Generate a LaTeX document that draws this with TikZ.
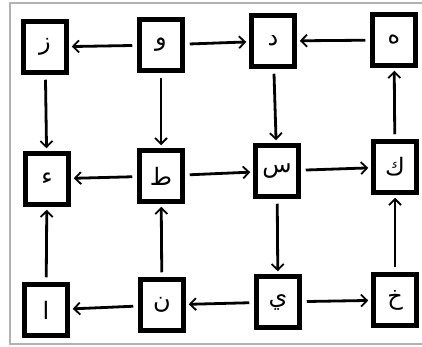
\documentclass[tikz,border=0pt]{standalone}
\usepackage{fontspec}
\newfontfamily\arabicfont[Script=Arabic]{DejaVu Sans}
\TeXXeTstate=1
\usetikzlibrary{arrows.meta}
\begin{document}
\begin{tikzpicture}[x=1pt,y=-1pt,
  box/.style={draw=black, line width=4.5pt, minimum width=43pt, minimum height=51pt, inner sep=0pt,
    font=\arabicfont\fontsize{24}{28}\selectfont},
  link/.style={line width=2.8pt, -{Straight Barb[length=6pt,width=12pt,line width=1.8pt]},
    shorten <=5pt, shorten >=3pt}]
\useasboundingbox (0,0) rectangle (422,347);
\fill[white] (0,0) rectangle (422,347);
\draw[black!30, line width=2pt] (422,3) -- (10,3) -- (10,344) -- (422,344);
% top row
\node[box] (z)  at (45,47)  {\beginR ز\endR};
\node[box] (w)  at (161,45) {\beginR و\endR};
\node[box] (d)  at (273,41) {\beginR د\endR};
\node[box] (h)  at (394,40) {\beginR ه\endR};
% middle row
\node[box] (hm) at (47,179)  {\beginR ء\endR};
\node[box] (t)  at (161,176) {\beginR ط\endR};
\node[box] (s)  at (277,171) {\beginR س\endR};
\node[box] (k)  at (395,167) {\beginR ك\endR};
% bottom row
\node[box] (a)  at (46,310)  {\beginR ا\endR};
\node[box] (n)  at (162,305) {\beginR ن\endR};
\node[box] (y)  at (278,302) {\beginR ي\endR};
\node[box] (kh) at (395,300) {\beginR خ\endR};
% connectors
\draw[link] (w) -- (z);
\draw[link] (w) -- (d);
\draw[link] (h) -- (d);
\draw[link] (z) -- (hm);
\draw[link] (w) -- (t);
\draw[link] (d) -- (s);
\draw[link] (k) -- (h);
\draw[link] (t) -- (hm);
\draw[link] (t) -- (s);
\draw[link] (s) -- (k);
\draw[link] (a) -- (hm);
\draw[link] (n) -- (t);
\draw[link] (s) -- (y);
\draw[link] (kh) -- (k);
\draw[link] (n) -- (a);
\draw[link] (y) -- (n);
\draw[link] (y) -- (kh);
\end{tikzpicture}
\end{document}
